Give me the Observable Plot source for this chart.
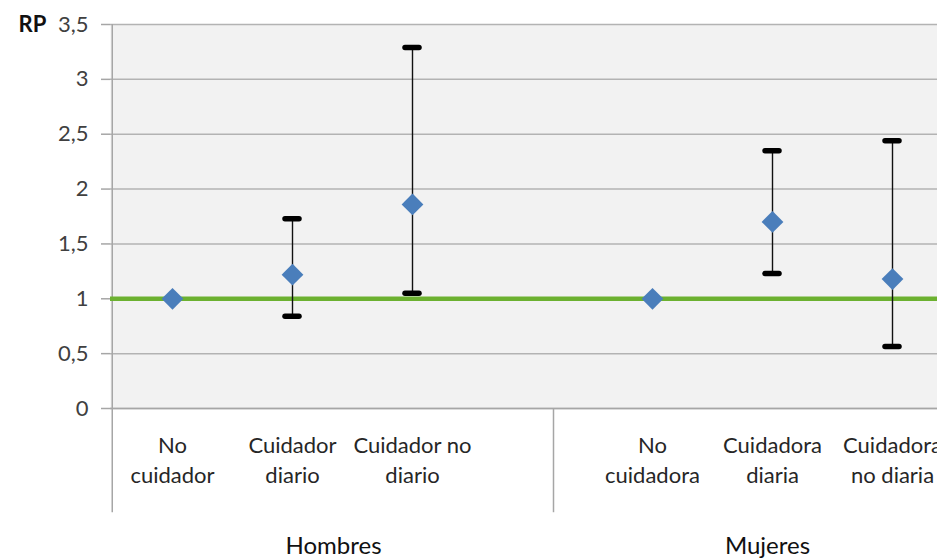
<!DOCTYPE html>
<html><head><meta charset="utf-8">
<script src="https://cdn.jsdelivr.net/npm/d3@7"></script>
<script src="https://cdn.jsdelivr.net/npm/@observablehq/plot@0.6"></script>
<style>
html,body{margin:0;padding:0;background:#fff;}
#chart svg{display:block;}
</style>
</head><body><div id="chart"></div>
<script>
// Categories (one empty slot separates the two groups)
const categories = ["No cuidador", "Cuidador diario", "Cuidador no diario", "", "No cuidadora", "Cuidadora diaria", "Cuidadora no diaria"];
const catLabels = ["No\ncuidador", "Cuidador\ndiario", "Cuidador no\ndiario", "", "No\ncuidadora", "Cuidadora\ndiaria", "Cuidadora\nno diaria"];
// Razón de prevalencia (RP) and 95% CI
const rp    = [1.00, 1.22, 1.86, null, 1.00, 1.70, 1.18];
const lower = [null, 0.84, 1.05, null, null, 1.23, 0.565];
const upper = [null, 1.73, 3.29, null, null, 2.35, 2.44];
const groups = ["Hombres", "Mujeres"];
const yTicks = [0, 0.5, 1, 1.5, 2, 2.5, 3, 3.5];
const referenceValue = [1];

const rows = categories.map((c, i) => ({cat: c, label: catLabels[i], rp: rp[i], lo: lower[i], hi: upper[i]}));
const withCI = rows.filter(d => d.lo != null);
const withRP = rows.filter(d => d.rp != null);

const axisGray = "#a6a6a6";
const font = "Lato, 'Open Sans', sans-serif";

const chart = Plot.plot({
  width: 937,
  height: 558,
  marginTop: 24,
  marginBottom: 150,
  marginLeft: 110,
  marginRight: 0,
  style: {fontFamily: font, background: "#fff", overflow: "visible"},
  x: {type: "band", domain: categories, range: [110, 953.5], padding: 0, axis: null},
  y: {domain: [0, 3.5], axis: null},
  marks: [
    Plot.frame({fill: "#f2f2f2", stroke: "none"}),
    Plot.gridY(yTicks, {stroke: "#b3b3b3", strokeOpacity: 1, strokeWidth: 1.5}),
    Plot.axisY(yTicks, {
      tickFormat: d => String(d).replace(".", ","),
      tickSize: 9, tickPadding: 13, fontSize: 22,
      stroke: axisGray, fill: "#404040", strokeWidth: 1.5
    }),
    // left axis line (extends into category area)
    Plot.ruleX([categories[0]], {y1: -0.95, y2: 3.5, dx: -60.25, stroke: axisGray, strokeWidth: 1.5}),
    // bottom axis line
    Plot.ruleY([0], {stroke: axisGray, strokeWidth: 1.5}),
    // group separator
    Plot.ruleX([categories[3]], {y1: 0, y2: -0.95, dx: 21, stroke: axisGray, strokeWidth: 1.5}),
    // reference line RP = 1
    Plot.ruleY(referenceValue, {stroke: "#6cb130", strokeWidth: 4.5}),
    // CI whiskers
    Plot.ruleX(withCI, {x: "cat", y1: "lo", y2: "hi", stroke: "#111", strokeWidth: 1.4}),
    Plot.tickY(withCI, {x: "cat", y: "lo", stroke: "#000", strokeWidth: 5.5, strokeLinecap: "round", insetLeft: 53, insetRight: 53}),
    Plot.tickY(withCI, {x: "cat", y: "hi", stroke: "#000", strokeWidth: 5.5, strokeLinecap: "round", insetLeft: 53, insetRight: 53}),
    // point estimates
    Plot.dot(withRP, {x: "cat", y: "rp", symbol: "diamond2", r: 9.8, fill: "#4a7ebb", stroke: "none"}),
    // category labels
    Plot.text(rows, {x: "cat", text: "label", frameAnchor: "bottom", dy: 50, lineAnchor: "middle",
      lineHeight: 1.36, fontSize: 22, fill: "#262626", fontFamily: font}),
    // group labels
    Plot.text([groups[0]], {x: () => categories[1], text: d => d, frameAnchor: "bottom", dy: 138, dx: 41,
      lineAnchor: "middle", fontSize: 24, fill: "#111", fontFamily: font}),
    Plot.text([groups[1]], {x: () => categories[5], text: d => d, frameAnchor: "bottom", dy: 138, dx: -5,
      lineAnchor: "middle", fontSize: 24, fill: "#111", fontFamily: font}),
    // y-axis title
    Plot.text(["RP"], {frameAnchor: "top-left", dx: -92, dy: 0, textAnchor: "start", lineAnchor: "middle",
      fontSize: 22, fontWeight: "bold", fill: "#111", fontFamily: font})
  ]
});
document.getElementById("chart").append(chart);
</script>
</body></html>
